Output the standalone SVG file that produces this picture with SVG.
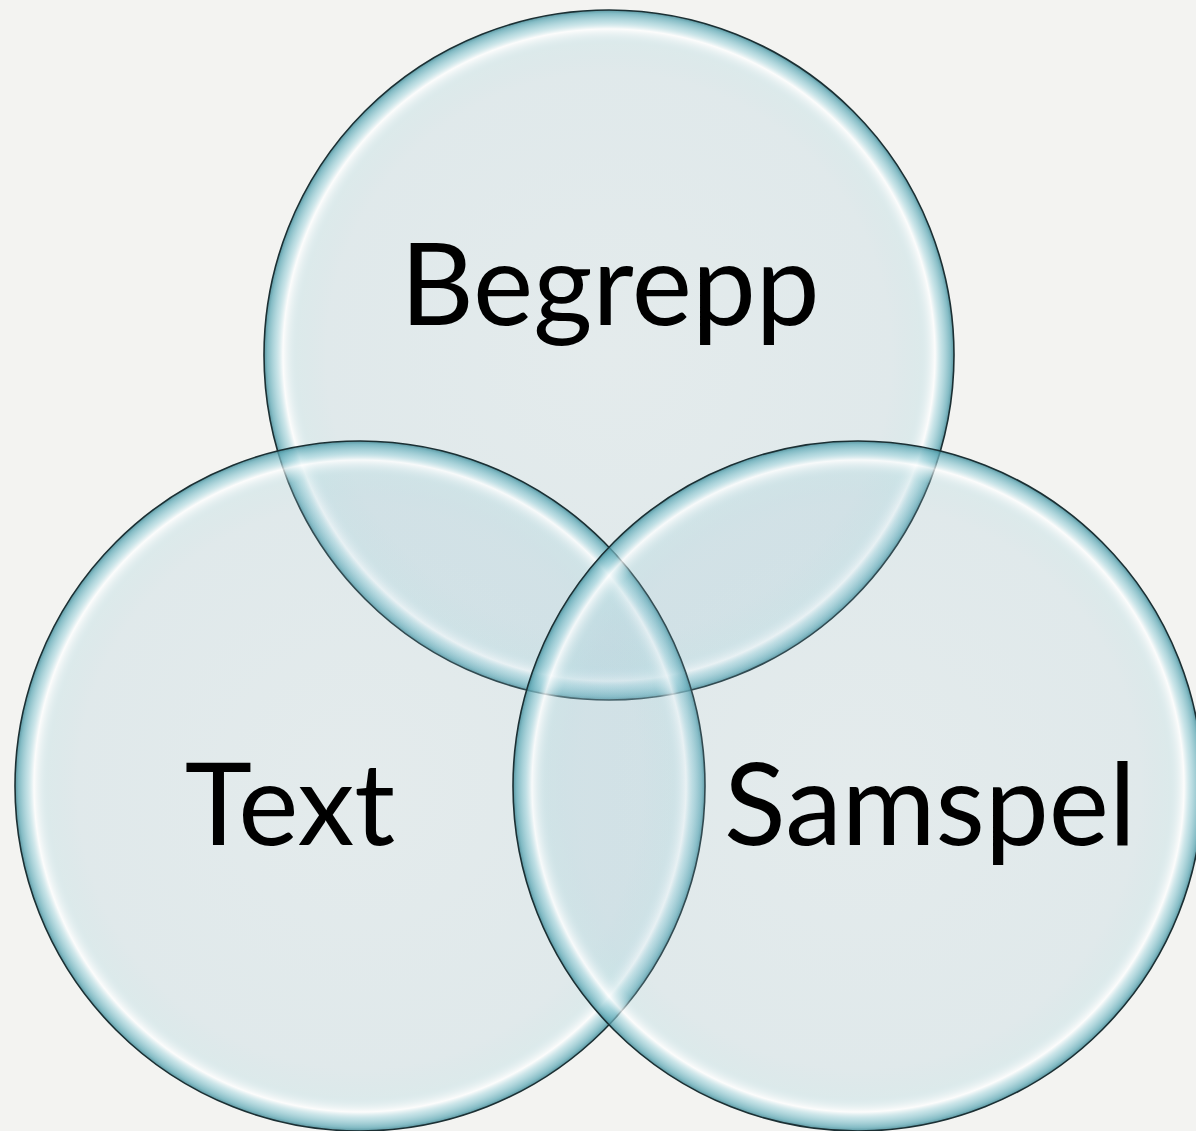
<svg xmlns="http://www.w3.org/2000/svg" width="1196" height="1131" viewBox="0 0 1196 1131">
<defs>
<radialGradient id="glass" cx="0.5" cy="0.5" r="0.5">
<stop offset="0" stop-color="#94c1d2" stop-opacity="0.16"/>
<stop offset="0.82" stop-color="#94c1d2" stop-opacity="0.2"/>
<stop offset="0.9" stop-color="#a8d4dc" stop-opacity="0.3"/>
<stop offset="0.945" stop-color="#ffffff" stop-opacity="0.75"/>
<stop offset="0.965" stop-color="#9fd3dc" stop-opacity="0.6"/>
<stop offset="0.99" stop-color="#5fa9b6" stop-opacity="0.75"/>
<stop offset="1" stop-color="#3f8592" stop-opacity="0.85"/>
</radialGradient>
<style>
.c{fill:url(#glass);stroke:#1b2f33;stroke-width:1.6}
.t{font-family:Lato,"Open Sans","Liberation Sans",sans-serif;font-size:114px;fill:#000;text-anchor:middle}
</style>
</defs>
<rect width="1196" height="1131" fill="#f3f3f1"/>
<g id="begrepp">
<circle class="c" cx="609" cy="355" r="345"/>
</g>
<g id="text">
<circle class="c" cx="360" cy="786" r="345"/>
</g>
<g id="samspel">
<circle class="c" cx="858" cy="786" r="345"/>
</g>
<g id="labels">
<text class="t" x="610" y="325">Begrepp</text>
<text class="t" x="290" y="845">Text</text>
<text class="t" x="930" y="845">Samspel</text>
</g>
<g id="connectors"/>
</svg>
